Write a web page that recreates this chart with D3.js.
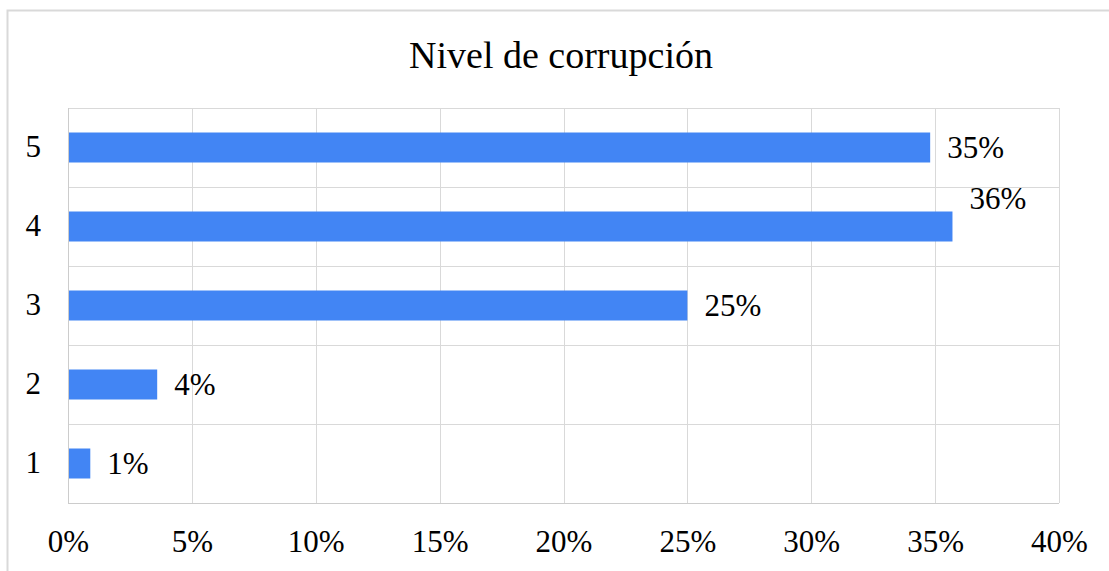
<!DOCTYPE html>
<html>
<head>
<meta charset="utf-8">
<script src="https://cdn.jsdelivr.net/npm/d3@7"></script>
<style>
  body { margin: 0; background: #fff; }
  text { font-family: "Liberation Serif", "Times New Roman", serif; fill: #000; }
</style>
</head>
<body>
<div id="main"></div>
<script>
// Data
const title = "Nivel de corrupción";
const categories = ["5", "4", "3", "2", "1"];
const values = [0.348, 0.357, 0.25, 0.036, 0.009];
const valueLabels = ["35%", "36%", "25%", "4%", "1%"];
const xTicks = [0, 0.05, 0.1, 0.15, 0.2, 0.25, 0.3, 0.35, 0.4];

// Layout config
const width = 1109;
const height = 571;
const plot = { left: 68, right: 1059, top: 108, bottom: 503 };

const svg = d3.select("#main").append("svg")
  .attr("width", width)
  .attr("height", height);

// outer frame (only top/left visible)
svg.append("rect")
  .attr("x", 7.5).attr("y", 10.5)
  .attr("width", width + 20).attr("height", height + 20)
  .attr("fill", "none")
  .attr("stroke", "#d9d9d9")
  .attr("stroke-width", 2);

// Scales
const x = d3.scaleLinear().domain([0, 0.4]).range([plot.left, plot.right]);
const y = d3.scaleBand().domain(categories).range([plot.top, plot.bottom]).paddingInner(0).paddingOuter(0);
const barH = 30;

// Grid
const grid = svg.append("g");
grid.selectAll("line.v")
  .data(xTicks)
  .join("line")
  .attr("class", "v")
  .attr("x1", (d) => Math.round(x(d)) + 0.5)
  .attr("x2", (d) => Math.round(x(d)) + 0.5)
  .attr("y1", plot.top)
  .attr("y2", plot.bottom)
  .attr("stroke", "#d9d9d9");

const bounds = categories.map((c) => y(c)).concat([plot.bottom]);
grid.selectAll("line.h")
  .data(bounds)
  .join("line")
  .attr("class", "h")
  .attr("x1", plot.left)
  .attr("x2", plot.right)
  .attr("y1", (d) => Math.round(d) + 0.5)
  .attr("y2", (d) => Math.round(d) + 0.5)
  .attr("stroke", "#d9d9d9");

// left axis line slightly darker
svg.append("line")
  .attr("x1", plot.left + 0.5).attr("x2", plot.left + 0.5)
  .attr("y1", plot.top).attr("y2", plot.bottom)
  .attr("stroke", "#cccccc");
svg.append("line")
  .attr("x1", plot.left).attr("x2", plot.right)
  .attr("y1", plot.bottom + 0.5).attr("y2", plot.bottom + 0.5)
  .attr("stroke", "#cccccc");

// Bars
svg.append("g")
  .selectAll("rect")
  .data(values)
  .join("rect")
  .attr("x", x(0) + 1)
  .attr("y", (d, i) => y(categories[i]) + (y.bandwidth() - barH) / 2)
  .attr("width", (d) => x(d) - x(0) - 1)
  .attr("height", barH)
  .attr("fill", "#4285f4");

// Value labels (the longest bar's label gets nudged up, like Sheets does)
const maxV = d3.max(values);
svg.append("g")
  .selectAll("text")
  .data(values)
  .join("text")
  .attr("x", (d) => x(d) + 17)
  .attr("y", (d, i) => y(categories[i]) + y.bandwidth() / 2 + (d === maxV ? -28 : 0))
  .attr("dy", "0.35em")
  .attr("font-size", 31)
  .text((d, i) => valueLabels[i]);

// Y axis labels
const yAxis = d3.axisLeft(y).tickSize(0).tickPadding(27);
svg.append("g")
  .attr("transform", `translate(${plot.left},0)`)
  .call(yAxis)
  .call((g) => g.select(".domain").remove())
  .call((g) => g.selectAll("text").attr("font-size", 31).attr("font-family", null));

// X axis labels
const xAxis = d3.axisBottom(x).tickValues(xTicks).tickFormat(d3.format(".0%")).tickSize(0).tickPadding(0);
svg.append("g")
  .attr("transform", `translate(0,${plot.bottom})`)
  .call(xAxis)
  .call((g) => g.select(".domain").remove())
  .call((g) => g.selectAll("text").attr("font-size", 31).attr("font-family", null).attr("dy", null).attr("y", 49));

// Title
svg.append("text")
  .attr("x", 561)
  .attr("y", 68)
  .attr("text-anchor", "middle")
  .attr("font-size", 38)
  .text(title);
</script>
</body>
</html>
